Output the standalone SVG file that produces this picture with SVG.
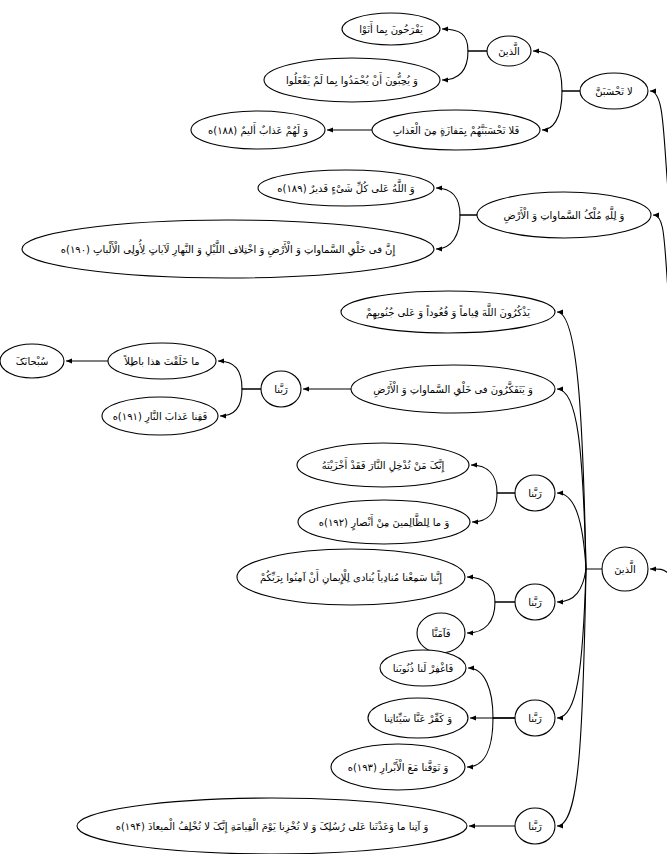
<svg xmlns="http://www.w3.org/2000/svg" width="667" height="854" viewBox="0 0 667 854">
<style>
.n ellipse{fill:#fff;stroke:#000;stroke-width:1.1}
.n text{font-family:"DejaVu Sans",sans-serif;font-size:10px;text-anchor:middle;direction:rtl;dominant-baseline:central;fill:#000}
#edges path{fill:none;stroke:#000;stroke-width:1.1;marker-end:url(#ah)}
</style>
<defs>
<marker id="ah" markerUnits="userSpaceOnUse" markerWidth="7" markerHeight="6" refX="6" refY="2.5" orient="auto">
<path d="M0,0 L6,2.5 L0,5 z" fill="#000"/>
</marker>
</defs>
<rect width="667" height="854" fill="#fff"/>
<g id="edges">
<path d="M668,190 C663,130 664,91 650,91"/>
<path d="M668,290 C664,240 665,215 653,215"/>
<path d="M668,573 C662,568 658,569 650,569"/>
<path d="M580,91 L562,91 C562,62 552,51 533,51"/>
<path d="M580,91 L562,91 C562,120 552,130 542,130"/>
<path d="M487,51 L468,51 C468,34 460,29 442,29"/>
<path d="M487,51 L468,51 C468,70 460,80 442,80"/>
<path d="M372,130 L327,130"/>
<path d="M477,215 L460,215 C460,198 452,188 436,188"/>
<path d="M477,215 L460,215 C460,235 452,249 436,249"/>
<path d="M602,569 L586,569 C583,420 578,312 557,312"/>
<path d="M586,569 C583,450 578,389 557,389"/>
<path d="M586,569 C583,520 575,493 557,493"/>
<path d="M586,569 C583,590 575,602 557,602"/>
<path d="M586,569 C583,670 577,718 557,718"/>
<path d="M586,569 C583,740 579,826 557,826"/>
<path d="M351,389 L303,389"/>
<path d="M261,389 L242,389 C242,370 235,361 218,361"/>
<path d="M261,389 L242,389 C242,406 235,416 220,416"/>
<path d="M108,361 L66,361"/>
<path d="M515,493 L497,493 C497,475 488,465 471,465"/>
<path d="M515,493 L497,493 C497,512 488,522 472,522"/>
<path d="M515,602 L495,602 C495,587 485,577 467,577"/>
<path d="M515,602 L495,602 C495,622 485,633 467,633"/>
<path d="M515,718 L493,718 C493,690 485,668 468,668"/>
<path d="M515,718 L470,718"/>
<path d="M515,718 L493,718 C493,748 485,767 467,767"/>
<path d="M515,826 L469,826"/>
</g>
<g id="n1" class="n"><ellipse cx="391" cy="29" rx="49" ry="16"/><text x="391" y="29">یَفْرَحُونَ بِما أَتَوْا</text></g>
<g id="n2" class="n"><ellipse cx="509" cy="51" rx="22" ry="15"/><text x="509" y="51">الَّذینَ</text></g>
<g id="n3" class="n"><ellipse cx="352" cy="80" rx="88" ry="22"/><text x="352" y="80">وَ یُحِبُّونَ أَنْ یُحْمَدُوا بِما لَمْ یَفْعَلُوا</text></g>
<g id="n4" class="n"><ellipse cx="614" cy="91" rx="34" ry="18"/><text x="614" y="91">لا تَحْسَبَنَّ</text></g>
<g id="n5" class="n"><ellipse cx="456" cy="130" rx="84" ry="20"/><text x="456" y="130">فَلا تَحْسَبَنَّهُمْ بِمَفازَةٍ مِنَ الْعَذابِ</text></g>
<g id="n6" class="n"><ellipse cx="258" cy="130" rx="67" ry="19"/><text x="258" y="130">وَ لَهُمْ عَذابٌ أَلیمٌ (۱۸۸)ه</text></g>
<g id="n7" class="n"><ellipse cx="346" cy="188" rx="88" ry="18"/><text x="346" y="188">وَ اللَّهُ عَلی کُلِّ شَیْءٍ قَدیرٌ (۱۸۹)ه</text></g>
<g id="n8" class="n"><ellipse cx="564" cy="215" rx="87" ry="23"/><text x="564" y="215">وَ لِلَّهِ مُلْکُ السَّماواتِ وَ الْأَرْضِ</text></g>
<g id="n9" class="n"><ellipse cx="228" cy="249" rx="206" ry="29"/><text x="228" y="249">إِنَّ فی خَلْقِ السَّماواتِ وَ الْأَرْضِ وَ اخْتِلافِ اللَّیْلِ وَ النَّهارِ لَآیاتٍ لِأُولِی الْأَلْبابِ (۱۹۰)ه</text></g>
<g id="n10" class="n"><ellipse cx="448" cy="312" rx="107" ry="21"/><text x="448" y="312">یَذْکُرُونَ اللَّهَ قِیاماً وَ قُعُوداً وَ عَلی جُنُوبِهِمْ</text></g>
<g id="n11" class="n"><ellipse cx="32" cy="361" rx="32" ry="17"/><text x="32" y="361">سُبْحانَکَ</text></g>
<g id="n12" class="n"><ellipse cx="162" cy="361" rx="54" ry="18"/><text x="162" y="361">ما خَلَقْتَ هذا باطِلاً</text></g>
<g id="n13" class="n"><ellipse cx="281" cy="389" rx="20" ry="18"/><text x="281" y="389">رَبَّنا</text></g>
<g id="n14" class="n"><ellipse cx="453" cy="389" rx="102" ry="24"/><text x="453" y="389">وَ یَتَفَکَّرُونَ فی خَلْقِ السَّماواتِ وَ الْأَرْضِ</text></g>
<g id="n15" class="n"><ellipse cx="160" cy="416" rx="58" ry="19"/><text x="160" y="416">فَقِنا عَذابَ النَّارِ (۱۹۱)ه</text></g>
<g id="n16" class="n"><ellipse cx="383" cy="465" rx="86" ry="22"/><text x="383" y="465">إِنَّکَ مَنْ تُدْخِلِ النَّارَ فَقَدْ أَخْزَیْتَهُ</text></g>
<g id="n17" class="n"><ellipse cx="535" cy="493" rx="20" ry="18"/><text x="535" y="493">رَبَّنا</text></g>
<g id="n18" class="n"><ellipse cx="384" cy="522" rx="86" ry="22"/><text x="384" y="522">وَ ما لِلظَّالِمینَ مِنْ أَنْصارٍ (۱۹۲)ه</text></g>
<g id="n19" class="n"><ellipse cx="625" cy="569" rx="23" ry="22"/><text x="625" y="569">الَّذینَ</text></g>
<g id="n20" class="n"><ellipse cx="351" cy="577" rx="114" ry="28"/><text x="351" y="577">إِنَّنا سَمِعْنا مُنادِیاً یُنادی لِلْإِیمانِ أَنْ آمِنُوا بِرَبِّکُمْ</text></g>
<g id="n21" class="n"><ellipse cx="535" cy="602" rx="20" ry="18"/><text x="535" y="602">رَبَّنا</text></g>
<g id="n22" class="n"><ellipse cx="441" cy="633" rx="24" ry="20"/><text x="441" y="633">فَآمَنَّا</text></g>
<g id="n23" class="n"><ellipse cx="423" cy="668" rx="43" ry="18"/><text x="423" y="668">فَاغْفِرْ لَنا ذُنُوبَنا</text></g>
<g id="n24" class="n"><ellipse cx="535" cy="718" rx="20" ry="18"/><text x="535" y="718">رَبَّنا</text></g>
<g id="n25" class="n"><ellipse cx="418" cy="718" rx="50" ry="20"/><text x="418" y="718">وَ کَفِّرْ عَنَّا سَیِّئاتِنا</text></g>
<g id="n26" class="n"><ellipse cx="398" cy="767" rx="67" ry="23"/><text x="398" y="767">وَ تَوَفَّنا مَعَ الْأَبْرارِ (۱۹۳)ه</text></g>
<g id="n27" class="n"><ellipse cx="535" cy="826" rx="20" ry="18"/><text x="535" y="826">رَبَّنا</text></g>
<g id="n28" class="n"><ellipse cx="272" cy="826" rx="195" ry="28"/><text x="272" y="826">وَ آتِنا ما وَعَدْتَنا عَلی رُسُلِکَ وَ لا تُخْزِنا یَوْمَ الْقِیامَةِ إِنَّکَ لا تُخْلِفُ الْمیعادَ (۱۹۴)ه</text></g>
</svg>
